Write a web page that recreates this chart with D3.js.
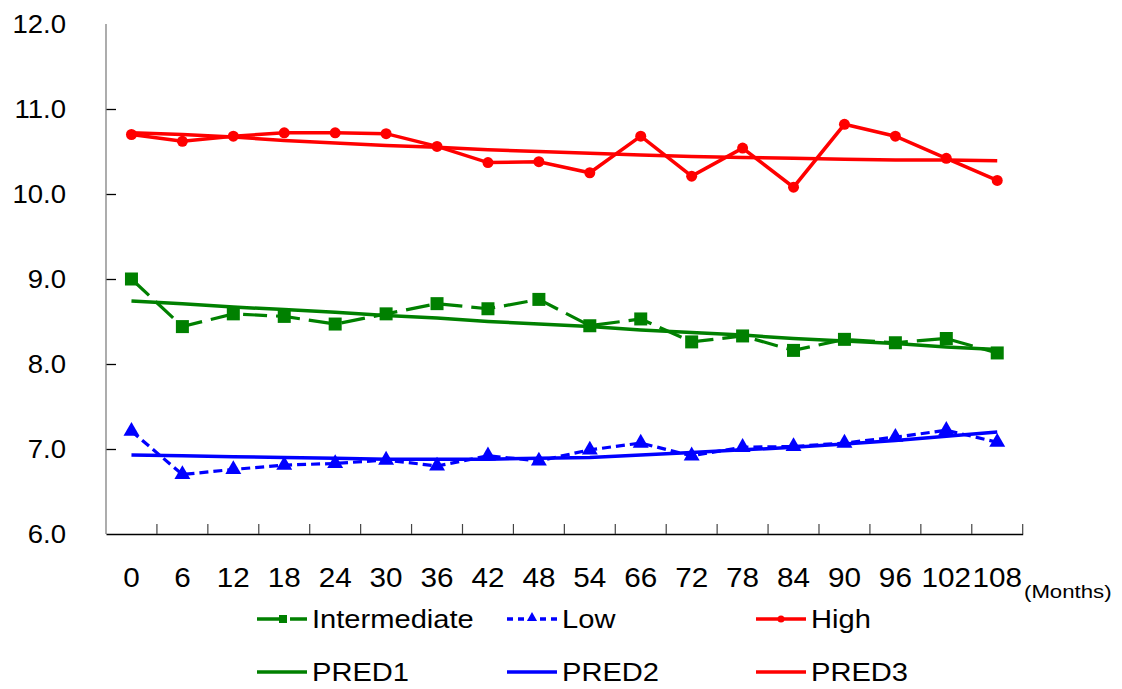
<!DOCTYPE html>
<html>
<head>
<meta charset="utf-8">
<script src="https://cdn.jsdelivr.net/npm/d3@7"></script>
<style>
  body { margin: 0; background: #fff; }
  text { font-family: "Liberation Sans", Arial, sans-serif; fill: #000; }
</style>
</head>
<body>
<div id="chart"></div>
<script>
// Data
const months = ["0", "6", "12", "18", "24", "30", "36", "42", "48", "54", "66", "72", "78", "84", "90", "96", "102", "108"];
const intermediate = [9.00, 8.44, 8.59, 8.56, 8.47, 8.59, 8.71, 8.65, 8.76, 8.45, 8.53, 8.26, 8.33, 8.16, 8.29, 8.25, 8.30, 8.13];
const low = [7.21, 6.70, 6.76, 6.81, 6.83, 6.87, 6.80, 6.92, 6.86, 6.99, 7.07, 6.92, 7.02, 7.03, 7.07, 7.14, 7.22, 7.08];
const high = [10.70, 10.62, 10.68, 10.72, 10.72, 10.71, 10.56, 10.37, 10.38, 10.25, 10.68, 10.21, 10.54, 10.08, 10.82, 10.68, 10.42, 10.16];
const pred1 = [8.74, 8.71, 8.67, 8.64, 8.61, 8.57, 8.54, 8.50, 8.47, 8.44, 8.40, 8.37, 8.34, 8.30, 8.27, 8.24, 8.20, 8.17];
const pred2 = [6.93, 6.92, 6.91, 6.90, 6.89, 6.88, 6.88, 6.88, 6.89, 6.90, 6.93, 6.96, 6.99, 7.02, 7.06, 7.10, 7.15, 7.20];
const pred3 = [10.72, 10.70, 10.67, 10.63, 10.60, 10.57, 10.55, 10.52, 10.50, 10.48, 10.46, 10.44, 10.43, 10.42, 10.41, 10.40, 10.40, 10.39];
const yTicks = [6, 7, 8, 9, 10, 11, 12];

// Dimensions
const width = 1122;
const height = 689;
const plotLeft = 106, plotRight = 1022.7, plotTop = 24, plotBottom = 534;

const svg = d3
  .select("#chart")
  .append("svg")
  .attr("width", width)
  .attr("height", height);

svg.append("rect").attr("width", width).attr("height", height).attr("fill", "#fff");

// Scales
const x = d3.scaleBand().domain(months).range([plotLeft, plotRight]).padding(0);
const y = d3.scaleLinear().domain([6, 12]).range([plotBottom, plotTop]);
const cx = (i) => x(months[i]) + x.bandwidth() / 2;

// the original text is a bit stretched sideways
const place = (px, py, sx) => `translate(${px},${py}) scale(${sx},1)`;

// Y axis
const yAxis = svg
  .append("g")
  .attr("transform", `translate(${plotLeft},0)`)
  .call(d3.axisRight(y).tickValues(yTicks.filter((t) => t > 6 && t < 12)).tickSize(10).tickFormat(""));
yAxis.select(".domain").remove();
yAxis.selectAll(".tick line").attr("stroke", "#000").attr("stroke-width", 1.3);
svg
  .append("line")
  .attr("x1", plotLeft).attr("x2", plotLeft)
  .attr("y1", y(12)).attr("y2", y(6))
  .attr("stroke", "#808080")
  .attr("stroke-width", 1.3);

svg
  .selectAll("text.ylab")
  .data(yTicks)
  .enter()
  .append("text")
  .attr("class", "ylab")
  .attr("transform", (d) => place(66, y(d), 1.06))
  .attr("dy", "0.36em")
  .attr("text-anchor", "end")
  .style("font-size", "26px")
  .text((d) => d.toFixed(1));

// X axis
const xAxis = svg
  .append("g")
  .attr("transform", `translate(0,${plotBottom})`)
  .call(d3.axisTop(x).tickValues([]).tickSizeOuter(0));
xAxis.select(".domain").attr("stroke", "#000").attr("stroke-width", 1.5);

svg
  .selectAll("line.xtick")
  .data(months)
  .enter()
  .append("line")
  .attr("class", "xtick")
  .attr("x1", (d) => x(d) + x.bandwidth())
  .attr("x2", (d) => x(d) + x.bandwidth())
  .attr("y1", plotBottom)
  .attr("y2", plotBottom - 10)
  .attr("stroke", "#444")
  .attr("stroke-width", 1.2);

svg
  .selectAll("text.xlab")
  .data(months)
  .enter()
  .append("text")
  .attr("class", "xlab")
  .attr("transform", (d) => place(x(d) + x.bandwidth() / 2, 587, 1.06))
  .attr("text-anchor", "middle")
  .style("font-size", "28px")
  .text((d) => d);

svg
  .append("text")
  .attr("transform", place(1024, 598, 1.2))
  .style("font-size", "18.5px")
  .text("(Months)");

// Lines
const line = d3
  .line()
  .x((d, i) => cx(i))
  .y((d) => y(d));

const series = [
  { values: pred1, color: "#008000", dash: null, w: 3.5 },
  { values: pred2, color: "#0000ff", dash: null, w: 3.5 },
  { values: pred3, color: "#ff0000", dash: null, w: 3.5 },
  { values: intermediate, color: "#008000", dash: "24,9", w: 3.2 },
  { values: low, color: "#0000ff", dash: "9,5", w: 3.2 },
  { values: high, color: "#ff0000", dash: null, w: 3.5 },
];

series.forEach((s) => {
  svg
    .append("path")
    .datum(s.values)
    .attr("d", line)
    .attr("fill", "none")
    .attr("stroke", s.color)
    .attr("stroke-width", s.w)
    .attr("stroke-dasharray", s.dash);
});

// Markers
svg
  .selectAll("rect.sq")
  .data(intermediate)
  .enter()
  .append("rect")
  .attr("class", "sq")
  .attr("x", (d, i) => cx(i) - 6.5)
  .attr("y", (d) => y(d) - 6.5)
  .attr("width", 13)
  .attr("height", 13)
  .attr("fill", "#008000");

const tri = d3.symbol().type(d3.symbolTriangle).size(110);
svg
  .selectAll("path.tri")
  .data(low)
  .enter()
  .append("path")
  .attr("class", "tri")
  .attr("d", tri)
  .attr("transform", (d, i) => `translate(${cx(i)},${y(d)})`)
  .attr("fill", "#0000ff");

svg
  .selectAll("circle.dot")
  .data(high)
  .enter()
  .append("circle")
  .attr("class", "dot")
  .attr("cx", (d, i) => cx(i))
  .attr("cy", (d) => y(d))
  .attr("r", 5.5)
  .attr("fill", "#ff0000");

// Legend
const legendItems = [
  { name: "Intermediate", color: "#008000", dash: "24,9", marker: "square", lx: 257, ly: 619 },
  { name: "Low", color: "#0000ff", dash: "6,5", marker: "triangle", lx: 507, ly: 619 },
  { name: "High", color: "#ff0000", dash: null, marker: "circle", lx: 756, ly: 619 },
  { name: "PRED1", color: "#008000", dash: null, marker: null, lx: 257, ly: 672 },
  { name: "PRED2", color: "#0000ff", dash: null, marker: null, lx: 507, ly: 672 },
  { name: "PRED3", color: "#ff0000", dash: null, marker: null, lx: 756, ly: 672 },
];

legendItems.forEach((d) => {
  const g = svg.append("g").attr("transform", `translate(${d.lx},${d.ly})`);
  g.append("line")
    .attr("x1", 0).attr("x2", 50)
    .attr("y1", 0).attr("y2", 0)
    .attr("stroke", d.color)
    .attr("stroke-width", 3.5)
    .attr("stroke-dasharray", d.dash);
  if (d.marker === "square") {
    g.append("rect").attr("x", 22).attr("y", -4).attr("width", 8).attr("height", 8).attr("fill", d.color);
  } else if (d.marker === "triangle") {
    g.append("path").attr("d", d3.symbol().type(d3.symbolTriangle).size(45)).attr("transform", "translate(25,-1)").attr("fill", d.color);
  } else if (d.marker === "circle") {
    g.append("circle").attr("cx", 25).attr("cy", 0).attr("r", 3.5).attr("fill", d.color);
  }
  g.append("text")
    .attr("transform", place(55, 9, 1.12))
    .style("font-size", "26px")
    .text(d.name);
});
</script>
</body>
</html>
